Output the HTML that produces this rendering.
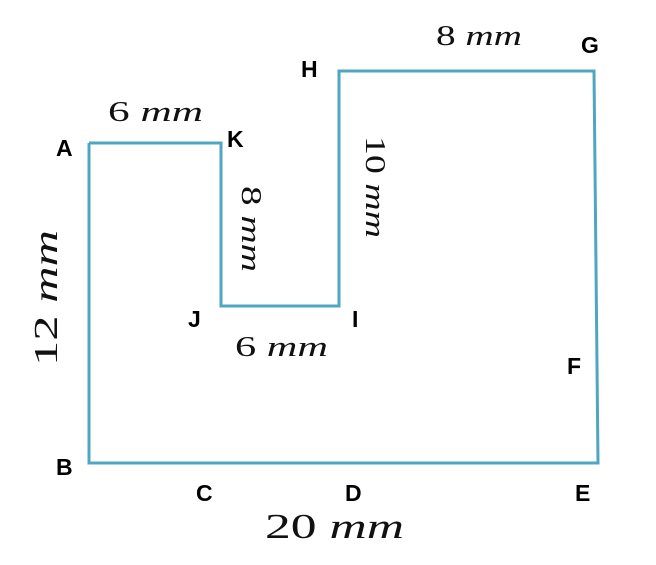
<!DOCTYPE html>
<html><head><meta charset="utf-8"><style>
html,body{margin:0;padding:0;background:#fff;}
svg{display:block}
.p{font-family:"Liberation Sans",sans-serif;font-weight:bold;font-size:23px;fill:#000}
.m{font-family:"Liberation Serif",serif;fill:#111}
</style></head><body>
<svg width="656" height="565" viewBox="0 0 656 565">
<polyline points="89,143 221,143 221,306 339,306 339,71 594,71 598,463 89,463 89,143" fill="none" stroke="#4fa6c0" stroke-width="3" stroke-linejoin="miter"/>
<text class="p" x="56" y="156">A</text>
<text class="p" x="227" y="147">K</text>
<text class="p" x="301" y="77">H</text>
<text class="p" x="581" y="53">G</text>
<text class="p" x="188" y="327">J</text>
<text class="p" x="352" y="327">I</text>
<text class="p" x="567" y="374">F</text>
<text class="p" x="56" y="475">B</text>
<text class="p" x="196" y="501">C</text>
<text class="p" x="345" y="501">D</text>
<text class="p" x="575" y="501">E</text>
<text class="m" x="108" y="121" font-size="28" textLength="95" lengthAdjust="spacingAndGlyphs">6 <tspan font-style="italic">mm</tspan></text>
<text class="m" x="436" y="45" font-size="28" textLength="86" lengthAdjust="spacingAndGlyphs">8 <tspan font-style="italic">mm</tspan></text>
<text class="m" x="235" y="356" font-size="28" textLength="93" lengthAdjust="spacingAndGlyphs">6 <tspan font-style="italic">mm</tspan></text>
<text class="m" x="265" y="538" font-size="35" textLength="139" lengthAdjust="spacingAndGlyphs">20 <tspan font-style="italic">mm</tspan></text>
<text class="m" font-size="28" transform="translate(242,186) rotate(90)" textLength="86" lengthAdjust="spacingAndGlyphs">8 <tspan font-style="italic">mm</tspan></text>
<text class="m" font-size="28" transform="translate(366,136) rotate(90)" textLength="102" lengthAdjust="spacingAndGlyphs">10 <tspan font-style="italic">mm</tspan></text>
<text class="m" font-size="34" transform="translate(57,366) rotate(-90)" textLength="136" lengthAdjust="spacingAndGlyphs">12 <tspan font-style="italic">mm</tspan></text>
</svg>
</body></html>
